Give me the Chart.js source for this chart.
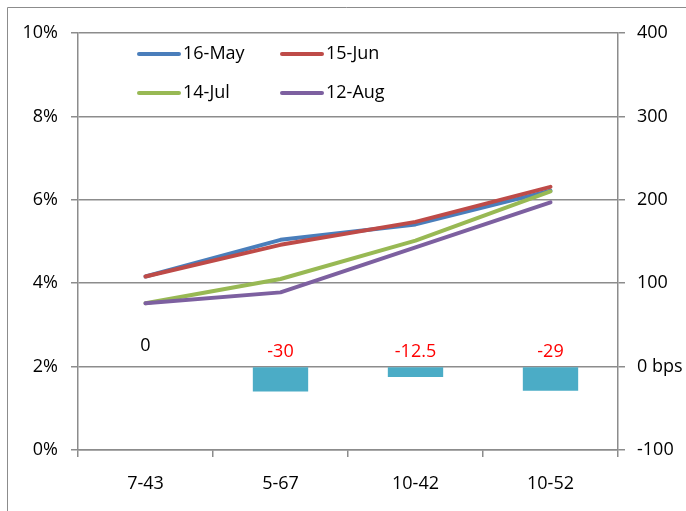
<!DOCTYPE html>
<html>
<head>
<meta charset="utf-8">
<script src="https://cdn.jsdelivr.net/npm/chart.js@4"></script>
<style>
  html, body { margin: 0; padding: 0; background: #fff; }
  #wrap { position: relative; width: 686px; height: 511px; }
</style>
</head>
<body>
<div id="wrap"><canvas id="c" width="686" height="511"></canvas></div>
<script>
// Bond buckets along the curve
const categories = ['7-43', '5-67', '10-42', '10-52'];

// Yields (%) on each date
const may16 = [4.16, 5.04, 5.41, 6.22];
const jun15 = [4.16, 4.92, 5.47, 6.31];
const jul14 = [3.52, 4.10, 5.02, 6.20];
const aug12 = [3.52, 3.78, 4.86, 5.94];

// Change in basis points (right axis)
const changeBps = [0, -30, -12.5, -29];

const seriesNames = ['16-May', '15-Jun', '14-Jul', '12-Aug'];
const seriesColors = ['#4A7EBB', '#BE4B48', '#98B954', '#7D60A0'];

const FONT = "'Open Sans', sans-serif";
const FSIZE = 18;
const GRID = '#8c8c8c';

// Outer frame, custom legend and bar value labels
const decorations = {
  id: 'decorations',
  beforeDraw(chart) {
    const ctx = chart.ctx;
    ctx.save();
    ctx.strokeStyle = '#8c8c8c';
    ctx.lineWidth = 1;
    ctx.beginPath();
    ctx.moveTo(7.5, chart.height);
    ctx.lineTo(7.5, 7.5);
    ctx.lineTo(chart.width, 7.5);
    ctx.stroke();
    ctx.restore();
  },
  afterDatasetsDraw(chart) {
    const ctx = chart.ctx;
    ctx.save();
    // legend
    const slots = [[137, 54], [280, 54], [137, 93], [280, 93]];
    ctx.font = FSIZE + 'px ' + FONT;
    ctx.textBaseline = 'middle';
    ctx.textAlign = 'left';
    seriesNames.forEach((name, i) => {
      const [x, y] = slots[i];
      ctx.strokeStyle = seriesColors[i];
      ctx.lineWidth = 4;
      ctx.lineCap = 'round';
      ctx.beginPath();
      ctx.moveTo(x + 2, y);
      ctx.lineTo(x + 42, y);
      ctx.stroke();
      ctx.fillStyle = '#000';
      ctx.fillText(name, x + 46, y);
    });
    // bar value labels
    const meta = chart.getDatasetMeta(4);
    const yR = chart.scales.yR;
    const zeroY = yR.getPixelForValue(0);
    meta.data.forEach((bar, i) => {
      const v = changeBps[i];
      ctx.fillStyle = v < 0 ? '#FF0000' : '#000000';
      ctx.textAlign = 'center';
      ctx.fillText(String(v), bar.x, zeroY - (v < 0 ? 15 : 21));
    });
    ctx.restore();
  }
};

const lineSet = (i, data) => ({
  type: 'line',
  label: seriesNames[i],
  data: data,
  yAxisID: 'yL',
  borderColor: seriesColors[i],
  backgroundColor: seriesColors[i],
  borderWidth: 4,
  borderCapStyle: 'round',
  borderJoinStyle: 'round',
  pointRadius: 0,
  tension: 0,
  order: 4 - i
});

new Chart(document.getElementById('c'), {
  data: {
    labels: categories,
    datasets: [
      lineSet(0, may16),
      lineSet(1, jun15),
      lineSet(2, jul14),
      lineSet(3, aug12),
      {
        type: 'bar',
        label: 'Change (bps)',
        data: changeBps,
        yAxisID: 'yR',
        backgroundColor: '#4BACC6',
        categoryPercentage: 1,
        barPercentage: 0.41,
        order: 10
      }
    ]
  },
  options: {
    responsive: false,
    animation: false,
    devicePixelRatio: 1,
    layout: { padding: { top: 33, left: 0, right: 0, bottom: 0 } },
    plugins: { legend: { display: false }, tooltip: { enabled: false } },
    scales: {
      x: {
        offset: true,
        grid: { offset: true, drawOnChartArea: false, drawTicks: true, tickLength: 7, color: GRID, lineWidth: 1.5 },
        border: { display: true, color: GRID, width: 1.5 },
        ticks: { color: '#000', font: { family: FONT, size: FSIZE }, padding: 16 },
        afterFit(s) { s.height = 61; }
      },
      yL: {
        position: 'left',
        min: 0, max: 10,
        ticks: { stepSize: 2, color: '#000', font: { family: FONT, size: FSIZE }, padding: 13,
                 callback: v => v + '%' },
        grid: { color: GRID, lineWidth: 1.5, tickLength: 7 },
        border: { display: true, color: GRID, width: 1.5 },
        afterFit(s) { s.width = 78; }
      },
      yR: {
        position: 'right',
        min: -100, max: 400,
        ticks: { stepSize: 100, color: '#000', font: { family: FONT, size: FSIZE }, padding: 12,
                 callback: v => v === 0 ? '0 bps' : String(v) },
        grid: { drawOnChartArea: false, color: GRID, lineWidth: 1.5, tickLength: 7 },
        border: { display: true, color: GRID, width: 1.5 },
        afterFit(s) { s.width = 68; }
      }
    }
  },
  plugins: [decorations]
});
</script>
</body>
</html>
